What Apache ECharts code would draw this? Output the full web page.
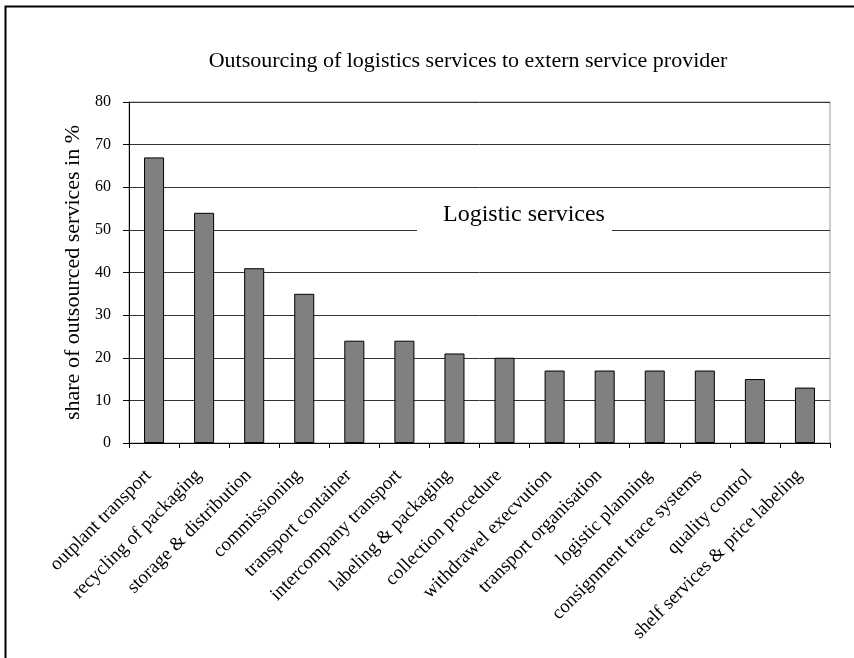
<!DOCTYPE html>
<html>
<head>
<meta charset="utf-8">
<script src="https://cdn.jsdelivr.net/npm/echarts@6/dist/echarts.min.js"></script>
<style>
  html, body { margin: 0; padding: 0; background: #fff; }
  #chart { width: 854px; height: 658px; }
</style>
</head>
<body>
<div id="chart"></div>
<script>
// 資料
const categories = [
  'outplant transport', 'recycling of packaging', 'storage & distribution',
  'commissioning', 'transport container', 'intercompany transport',
  'labeling & packaging', 'collection procedure', 'withdrawel execvution',
  'transport organisation', 'logistic planning', 'consignment trace systems',
  'quality control', 'shelf services & price labeling'
];
const shares = [67, 54, 41, 35, 24, 24, 21, 20, 17, 17, 17, 17, 15, 13];
const yTicks = [0, 10, 20, 30, 40, 50, 60, 70, 80];

const serif = '"Liberation Serif", "DejaVu Serif", serif';

const chart = echarts.init(document.getElementById('chart'));

const option = {
  animation: false,
  backgroundColor: '#fff',
  title: [
    {
      text: 'Outsourcing of logistics services to extern service provider',
      left: 463,
      textAlign: 'center',
      top: 45,
      textStyle: { fontFamily: serif, fontSize: 22, fontWeight: 'normal', color: '#000' }
    },
    {
      // 圖中標籤，白底蓋住格線
      text: 'Logistic services',
      left: 417,
      top: 198,
      padding: [5, 7, 8, 26],
      backgroundColor: '#fff',
      textStyle: { fontFamily: serif, fontSize: 24, fontWeight: 'normal', color: '#000' }
    }
  ],
  graphic: [
    {
      type: 'rect',
      left: 3,
      top: 4,
      shape: { width: 870, height: 680 },
      style: { fill: 'none', stroke: '#000', lineWidth: 2 },
      silent: true
    }
  ],
  grid: {
    left: 129,
    right: 24,
    top: 102,
    bottom: 215,
    show: true,
    borderColor: '#999',
    borderWidth: 1
  },
  xAxis: {
    type: 'category',
    data: categories,
    axisLine: { lineStyle: { color: '#000', width: 1 } },
    axisTick: { show: true, length: 5, lineStyle: { color: '#000' } },
    axisLabel: {
      rotate: 45,
      interval: 0,
      margin: 24,
      padding: [0, 8, 0, 0],
      fontFamily: serif,
      fontSize: 19,
      color: '#000'
    }
  },
  yAxis: {
    type: 'value',
    min: yTicks[0],
    max: yTicks[yTicks.length - 1],
    interval: 10,
    name: 'share of outsourced services in %',
    nameLocation: 'middle',
    nameGap: 42,
    nameTextStyle: { fontFamily: serif, fontSize: 22, color: '#000' },
    axisLine: { show: true, lineStyle: { color: '#000', width: 1 } },
    axisTick: { show: true, length: 6, lineStyle: { color: '#000' } },
    axisLabel: { margin: 18, fontFamily: serif, fontSize: 16, color: '#000' },
    splitLine: { show: true, lineStyle: { color: '#333', width: 1 } }
  },
  series: [
    {
      name: 'share',
      type: 'bar',
      data: shares,
      barCategoryGap: '60%',
      itemStyle: { color: '#808080', borderColor: '#000', borderWidth: 1 }
    }
  ]
};

chart.setOption(option);
</script>
</body>
</html>
